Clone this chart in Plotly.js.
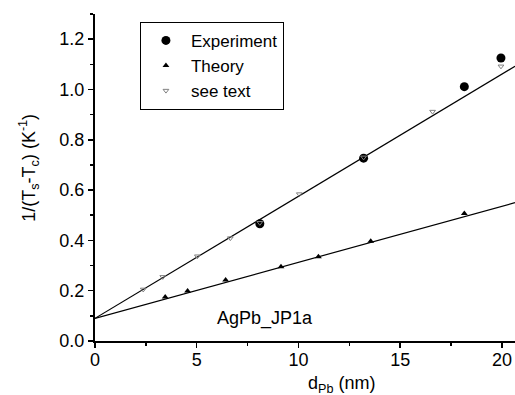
<!DOCTYPE html>
<html>
<head>
<meta charset="utf-8">
<script src="https://cdn.plot.ly/plotly-3.0.1.min.js"></script>
<style>
  html, body { margin: 0; padding: 0; background: #fff; }
  #chart { width: 515px; height: 395px; }
</style>
</head>
<body>
<div id="chart"></div>
<script>
// Measured points: Pb layer thickness (nm) vs 1/(Ts - Tc) (1/K)
const expX = [8.1, 13.2, 18.15, 19.95];
const expY = [0.466, 0.727, 1.011, 1.125];

const theoryX = [3.45, 4.55, 6.42, 9.14, 10.98, 13.55, 18.15];
const theoryY = [0.175, 0.199, 0.243, 0.295, 0.335, 0.397, 0.507];

const seeTextX = [2.37, 3.33, 5.03, 6.65, 8.1, 10.04, 13.2, 16.59, 19.95];
const seeTextY = [0.205, 0.255, 0.337, 0.409, 0.47, 0.584, 0.73, 0.912, 1.092];

// Linear fits sharing the intercept at d = 0
const fitX = [0, 20.64];
const fitUpperY = [0.09, 1.092];
const fitLowerY = [0.09, 0.55];

const FONT = 'Liberation Sans, Arial, sans-serif';
const FS = 18;

const traces = [
  { x: fitX, y: fitUpperY, mode: 'lines', line: { color: '#000', width: 1.2 }, showlegend: false, hoverinfo: 'skip' },
  { x: fitX, y: fitLowerY, mode: 'lines', line: { color: '#000', width: 1.2 }, showlegend: false, hoverinfo: 'skip' },
  { x: expX, y: expY, mode: 'markers', name: 'Experiment',
    marker: { symbol: 'circle', size: 9, color: '#000' } },
  { x: theoryX, y: theoryY, mode: 'markers', name: 'Theory',
    marker: { symbol: 'triangle-up', size: 6, color: '#000' } },
  { x: seeTextX, y: seeTextY, mode: 'markers', name: 'see text',
    marker: { symbol: 'triangle-down-open', size: 5, color: '#808080', line: { width: 1 } } }
];

const layout = {
  width: 515, height: 395,
  margin: { l: 95, r: 0, t: 14, b: 54 },
  paper_bgcolor: '#fff', plot_bgcolor: '#fff',
  font: { family: FONT, size: FS, color: '#000' },
  showlegend: true,
  legend: {
    x: 0.107, y: 0.976, xanchor: 'left', yanchor: 'top',
    bordercolor: '#000', borderwidth: 1, bgcolor: '#fff',
    font: { family: FONT, size: 17, color: '#000' },
    itemwidth: 40, tracegroupgap: 0, entrywidth: 150
  },
  xaxis: {
    range: [0, 20.64], dtick: 5, tick0: 0,
    showgrid: false, zeroline: false,
    showline: true, linecolor: '#000', linewidth: 2,
    ticks: 'outside', ticklen: 5, tickwidth: 1.5, tickcolor: '#000',
    minor: { dtick: 2.5, ticks: 'outside', ticklen: 3, tickwidth: 1.5, tickcolor: '#000', showgrid: false },
    tickfont: { family: FONT, size: FS },
    ticklabelstandoff: -4
  },
  yaxis: {
    range: [0, 1.3], dtick: 0.2, tick0: 0, tickformat: '.1f',
    showgrid: false, zeroline: false,
    showline: true, linecolor: '#000', linewidth: 2,
    ticks: 'outside', ticklen: 5, tickwidth: 1.5, tickcolor: '#000',
    minor: { dtick: 0.1, ticks: 'outside', ticklen: 3, tickwidth: 1.5, tickcolor: '#000', showgrid: false },
    tickfont: { family: FONT, size: FS }
  },
  annotations: [
    { text: 'AgPb_JP1a', xref: 'x', yref: 'y', x: 5.9, y: 0.09,
      xanchor: 'left', yanchor: 'middle', showarrow: false,
      font: { family: FONT, size: FS } },
    { text: 'd<sub>Pb</sub> (nm)', xref: 'paper', yref: 'paper', x: 0.588, y: 0,
      xanchor: 'center', yanchor: 'top', yshift: -30, showarrow: false,
      font: { family: FONT, size: FS } },
    { text: '1/(T<sub>s</sub>-T<sub>c</sub>) (K<sup>-1</sup>)', xref: 'paper', yref: 'paper',
      x: 0, y: 0.53, xshift: -66, xanchor: 'center', yanchor: 'middle', textangle: -90,
      showarrow: false, font: { family: FONT, size: FS } }
  ]
};

Plotly.newPlot('chart', traces, layout, { staticPlot: true, displayModeBar: false });
</script>
</body>
</html>
